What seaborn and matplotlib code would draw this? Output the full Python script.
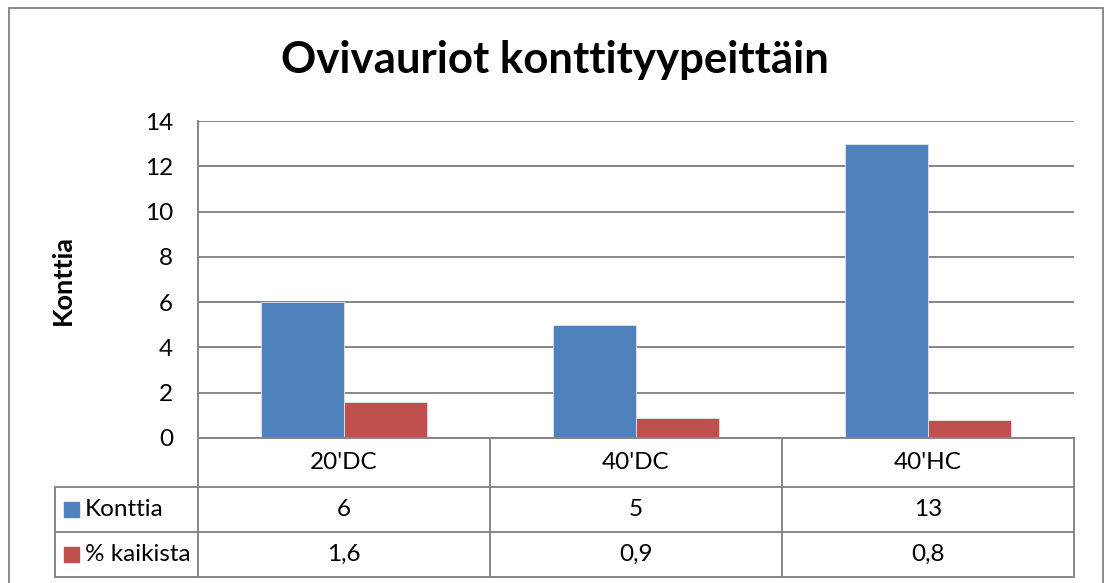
import matplotlib.pyplot as plt
import matplotlib.lines as mlines
import matplotlib.patches as mpatches
import seaborn as sns
import pandas as pd

# data
categories = ["20'DC", "40'DC", "40'HC"]
konttia = [6, 5, 13]
kaikista = [1.6, 0.9, 0.8]
kaikista_labels = ["1,6", "0,9", "0,8"]
series_names = ["Konttia", "% kaikista"]
colors = ["#4F81BD", "#C0504D"]

df = pd.DataFrame({
    "tyyppi": categories * 2,
    "sarja": [series_names[0]] * len(categories) + [series_names[1]] * len(categories),
    "arvo": konttia + kaikista,
})

sns.set_style("white")
plt.rcParams["font.family"] = ["Lato", "DejaVu Sans"]
plt.rcParams["text.color"] = "black"
plt.rcParams["ytick.color"] = "black"

W, H = 1106, 583
fig = plt.figure(figsize=(W / 100, H / 100), dpi=100)


def fx(px):
    return px / W


def fy(py):
    return 1 - py / H


txt_size = 17.5
grid_col = "#868686"
ax = fig.add_axes([fx(198), fy(438), fx(1074) - fx(198), fy(121) - fy(438)])
sns.barplot(data=df, x="tyyppi", y="arvo", hue="sarja", palette=colors,
            saturation=1, width=0.57, gap=0, errorbar=None, legend=False,
            edgecolor="#dfe6f0", linewidth=0.6, ax=ax)
ax.set_ylim(0, 14)
ax.set_xlim(-0.5, len(categories) - 0.5)
ax.set_yticks(range(0, 15, 2))
ax.yaxis.grid(True, color=grid_col, lw=1.4)
ax.set_axisbelow(True)
ax.set_xticks([])
ax.set_xlabel("")
ax.set_ylabel("")
ax.tick_params(axis="y", length=0, pad=18, labelsize=txt_size, labelcolor="black")
for s in ["top", "right"]:
    ax.spines[s].set_visible(False)
for s in ["left", "bottom"]:
    ax.spines[s].set_color(grid_col)
    ax.spines[s].set_linewidth(1.4)

fig.text(fx(63), fy(280), "Konttia", rotation=90, fontsize=19.5, fontweight="bold",
         ha="center", va="center")
fig.text(fx(555), fy(60), "Ovivauriot konttityypeittäin", fontsize=31.5,
         fontweight="bold", ha="center", va="center")


# data table under the chart
def hline(x0, x1, y):
    fig.add_artist(mlines.Line2D([fx(x0), fx(x1)], [fy(y), fy(y)],
                                 transform=fig.transFigure, color=grid_col, lw=1.4))


def vline(x, y0, y1):
    fig.add_artist(mlines.Line2D([fx(x), fx(x)], [fy(y0), fy(y1)],
                                 transform=fig.transFigure, color=grid_col, lw=1.4))


col_w = (1074 - 198) / len(categories)
edges = [198 + i * col_w for i in range(len(categories) + 1)]
rows = [438, 487, 532, 577]
hline(55, 1074, rows[1])
hline(55, 1074, rows[2])
hline(55, 1074, rows[3])
vline(55, rows[1], rows[3])
for e in edges:
    vline(e, rows[0], rows[3])

row_values = [[str(v) for v in konttia], kaikista_labels]
for i, cat in enumerate(categories):
    cx = (edges[i] + edges[i + 1]) / 2
    fig.text(fx(cx), fy((rows[0] + rows[1]) / 2), cat, fontsize=txt_size,
             ha="center", va="center")
    for r in range(2):
        fig.text(fx(cx), fy((rows[r + 1] + rows[r + 2]) / 2), row_values[r][i],
                 fontsize=txt_size, ha="center", va="center")

for r, name in enumerate(series_names):
    cy = (rows[r + 1] + rows[r + 2]) / 2
    fig.add_artist(mpatches.Rectangle((fx(64), fy(cy + 7)), fx(15), fy(0) - fy(15),
                                      transform=fig.transFigure, color=colors[r]))
    fig.text(fx(85), fy(cy), name, fontsize=txt_size, ha="left", va="center")

# outer chart border
fig.add_artist(mpatches.Rectangle((fx(9), fy(600)), fx(1103) - fx(9), fy(8) - fy(600),
                                  transform=fig.transFigure, fill=False,
                                  edgecolor="#898989", lw=1.4))

fig.savefig("out.png", dpi=100)
